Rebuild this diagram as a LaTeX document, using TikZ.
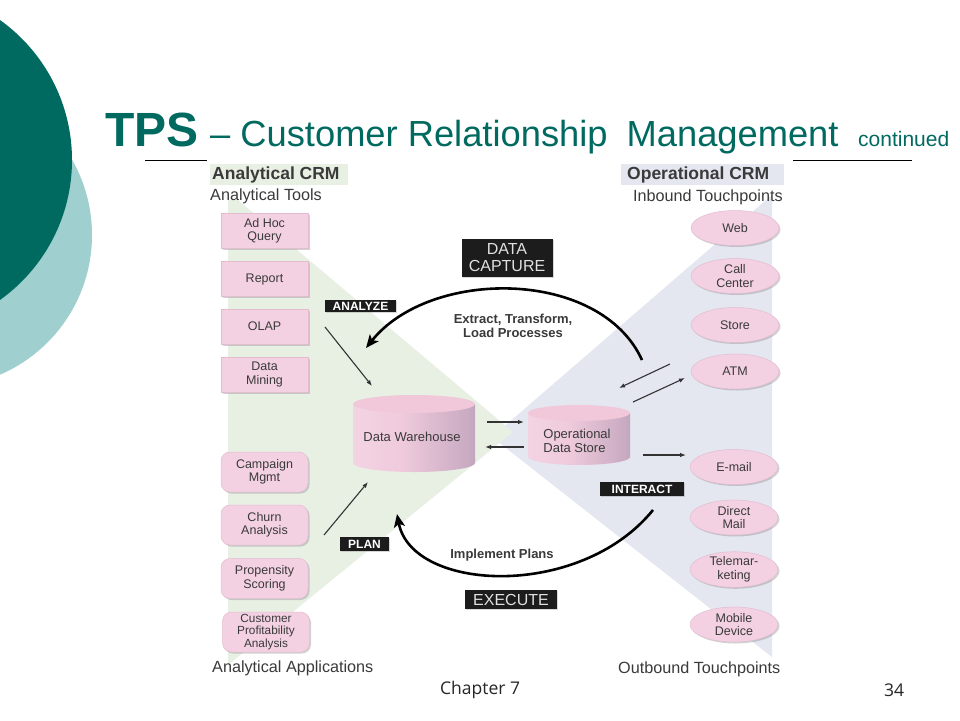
\documentclass[tikz,border=0pt]{standalone}
\usepackage{fontspec}
\setmainfont{Liberation Sans}
\newfontfamily\footfont{Open Sans}
\usetikzlibrary{arrows.meta,shadows,shapes.geometric}

\definecolor{tealdark}{HTML}{006A61}
\definecolor{teallight}{HTML}{9FCFCF}
\definecolor{greenbg}{HTML}{E8F0E4}
\definecolor{lavbg}{HTML}{E4E6F0}
\definecolor{pinkbox}{HTML}{F3D1E2}
\definecolor{pinkedge}{HTML}{E2BDD0}
\definecolor{tagblack}{HTML}{1C1C1C}
\definecolor{txtgray}{HTML}{3A3A3A}
\definecolor{cylA}{HTML}{F8E0EC}
\definecolor{cylB}{HTML}{EFCADC}
\definecolor{cylC}{HTML}{C9ABC2}
\definecolor{cylD}{HTML}{8E7F99}
\definecolor{cyltop}{HTML}{F1C7DA}
\pgfdeclarehorizontalshading{cylshade}{100bp}{color(0bp)=(cylA); color(45bp)=(cylB); color(72bp)=(cylC); color(100bp)=(cylD)}

\tikzset{
  toolbox/.style={rectangle, fill=pinkbox, draw=pinkedge, line width=0.5pt,
    minimum width=87pt, minimum height=35pt, inner sep=1pt, align=center,
    font=\fontsize{12.5}{13.5}\selectfont, text=txtgray,
    drop shadow={shadow xshift=1.5pt, shadow yshift=-1.5pt, opacity=0.35, fill=gray}},
  appbox/.style={toolbox, rounded corners=9pt, minimum height=40pt},
  touch/.style={ellipse, fill=pinkbox, draw=pinkedge, line width=0.5pt,
    minimum width=88pt, minimum height=35pt, inner sep=0pt, align=center,
    font=\fontsize{12.5}{13.5}\selectfont, text=txtgray,
    drop shadow={shadow xshift=1.5pt, shadow yshift=-1.5pt, opacity=0.35, fill=gray}},
  tag/.style={fill=tagblack, text=white, font=\bfseries\fontsize{12}{12}\selectfont,
    inner sep=0pt, drop shadow={shadow xshift=1pt, shadow yshift=-1pt, opacity=0.3, fill=gray}},
  bigtag/.style={fill=tagblack, text=white!88!black, font=\fontsize{16}{17}\selectfont,
    inner sep=0pt, align=center, drop shadow={shadow xshift=1pt, shadow yshift=-1pt, opacity=0.3, fill=gray}},
  thinarrow/.style={draw=black!80, line width=1.1pt, -{Latex[length=6pt,width=4.5pt]}},
  bigarrow/.style={draw=black, line width=2.6pt, -{Stealth[length=13pt,width=11pt,inset=3pt]}},
  headlbl/.style={font=\bfseries\fontsize{17.5}{19}\selectfont, text=txtgray, inner sep=0pt},
  sublbl/.style={font=\fontsize{16.2}{18}\selectfont, text=txtgray, inner sep=0pt},
  proclbl/.style={font=\bfseries\fontsize{13}{14.5}\selectfont, text=txtgray, align=center, inner sep=0pt},
  cyllbl/.style={font=\fontsize{13}{14}\selectfont, text=txtgray, align=left, inner sep=0pt},
}

\begin{document}
\begin{tikzpicture}[x=1pt,y=-1pt]
\useasboundingbox (0,0) rectangle (960,720);
\fill[white] (0,0) rectangle (960,720);

% decorative circles
\begin{scope}
\clip (0,0) rectangle (960,720);
\fill[teallight] (-60,235) circle (152);
\fill[tealdark] (-100,160) circle (172);
\end{scope}

% title
\node[anchor=base west, inner sep=0, text=tealdark, font=\bfseries\fontsize{48}{50}\selectfont] (tps) at (105,146) {TPS};
\node[anchor=base west, inner sep=0, text=tealdark, font=\fontsize{36.3}{40}\selectfont] (ttl) at (210,146) {– Customer Relationship\hspace{9pt} Management};
\node[anchor=base west, inner sep=0, text=tealdark, font=\fontsize{21}{24}\selectfont] (cont) at (858,146) {continued};
\coordinate (l1a) at (145,160); \coordinate (l1b) at (207,160);
\coordinate (l2a) at (793,160); \coordinate (l2b) at (912,160);
\draw[line width=1pt] (l1a) -- (l1b);
\draw[line width=1pt] (l2a) -- (l2b);

% background triangles
\fill[lavbg] (772,195) -- (492,437) -- (772,657) -- cycle;
\fill[greenbg] (228,200) -- (238,200) -- (513,432) -- (228,665) -- cycle;

% header labels
\node[fill=greenbg, minimum width=138pt, minimum height=21pt, inner sep=0pt] (acrmbg) at (279,174.5) {};
\node[headlbl, anchor=west] (acrm) at (212,174.5) {Analytical CRM};
\node[fill=lavbg, minimum width=163pt, minimum height=21pt, inner sep=0pt] (ocrmbg) at (702,174.5) {};
\node[headlbl, anchor=west] (ocrm) at (627,174.5) {Operational CRM};
\node[sublbl, anchor=west] (atools) at (210,196) {Analytical Tools};
\node[sublbl, anchor=west] (inbound) at (633,197) {Inbound Touchpoints};
\node[sublbl, anchor=west] (aapps) at (212,668) {Analytical Applications};
\node[sublbl, anchor=west] (outbound) at (618,669) {Outbound Touchpoints};

% analytical tools
\node[toolbox] (adhoc) at (264.5,231) {Ad Hoc\\Query};
\node[toolbox] (report) at (264.5,279) {Report};
\node[toolbox] (olap) at (264.5,326.5) {OLAP};
\node[toolbox] (mining) at (264.5,374.5) {Data\\Mining};

% analytical applications
\node[appbox] (campaign) at (264.5,472) {Campaign\\Mgmt};
\node[appbox] (churn) at (264.5,525) {Churn\\Analysis};
\node[appbox] (propensity) at (264.5,578.5) {Propensity\\Scoring};
\node[appbox, font=\fontsize{11.8}{12.6}\selectfont] (profit) at (266,632) {Customer\\Profitability\\Analysis};

% touchpoints
\node[touch] (web) at (735,228) {Web};
\node[touch] (call) at (735,276) {Call\\Center};
\node[touch] (store) at (735,325) {Store};
\node[touch] (atm) at (735,371.5) {ATM};
\node[touch] (email) at (734,467) {E-mail};
\node[touch] (dmail) at (734,517.5) {Direct\\Mail};
\node[touch] (tele) at (734,569.5) {Telemar-\\keting};
\node[touch] (mobile) at (734,624.5) {Mobile\\Device};

% cylinders
\shade[shading=cylshade] (353,404) -- (353,463) arc[start angle=180, end angle=360, x radius=61pt, y radius=9pt] -- (475,404) -- cycle;
\fill[cyltop] (414,404) ellipse [x radius=61pt, y radius=9pt];
\node[cyllbl] (dw) at (412,437) {Data Warehouse};

\shade[shading=cylshade] (528,413) -- (528,457) arc[start angle=180, end angle=360, x radius=51pt, y radius=8pt] -- (630,413) -- cycle;
\fill[cyltop] (579,413) ellipse [x radius=51pt, y radius=8pt];
\node[cyllbl] (ods) at (577,441) {Operational\\Data Store};

% tags
\node[bigtag, minimum width=91pt, minimum height=38pt] (capture) at (507,258) {DATA\\CAPTURE};
\node[tag, minimum width=71pt, minimum height=12pt] (analyze) at (360.5,306) {ANALYZE};
\node[tag, minimum width=49pt, minimum height=14pt] (plan) at (364.5,544) {PLAN};
\node[tag, minimum width=84pt, minimum height=14pt] (interact) at (642,489) {INTERACT};
\node[bigtag, minimum width=92pt, minimum height=19pt] (execute) at (511,599.5) {EXECUTE};

% process labels
\node[proclbl] (etl) at (513,326) {Extract, Transform,\\Load Processes};
\node[proclbl] (impl) at (502,555) {Implement Plans};

% big curved arrows
\coordinate (etlS) at (642,360); \coordinate (etlE) at (366,348);
\draw[bigarrow] (etlS) .. controls (600,268) and (430,268) .. (etlE);
\coordinate (impS) at (653,510); \coordinate (impE) at (397,514);
\draw[bigarrow] (impS) .. controls (580,600) and (412,592) .. (impE);

% thin arrows
\coordinate (anS) at (325,327); \coordinate (anE) at (372,386);
\draw[thinarrow] (anS) -- (anE);
\coordinate (plS) at (324,535); \coordinate (plE) at (368,482);
\draw[thinarrow] (plS) -- (plE);
\coordinate (dwoR1) at (487,422); \coordinate (dwoR2) at (524,422);
\draw[thinarrow] (dwoR1) -- (dwoR2);
\coordinate (dwoL1) at (524,447); \coordinate (dwoL2) at (485,447);
\draw[thinarrow] (dwoL1) -- (dwoL2);
\coordinate (atmA1) at (670,364); \coordinate (atmA2) at (619,388);
\draw[thinarrow] (atmA1) -- (atmA2);
\coordinate (atmB1) at (633,402); \coordinate (atmB2) at (685,378);
\draw[thinarrow] (atmB1) -- (atmB2);
\coordinate (emA1) at (643,455); \coordinate (emA2) at (686,455);
\draw[thinarrow] (emA1) -- (emA2);

% footer
\node[font=\footfont\fontsize{17.5}{19}\selectfont, text=black!85, anchor=west, inner sep=0pt] (chap) at (440,690) {Chapter 7};
\node[font=\footfont\fontsize{17.5}{19}\selectfont, text=black!85, anchor=west, inner sep=0pt] (page) at (884,690) {34};
\end{tikzpicture}
\end{document}
